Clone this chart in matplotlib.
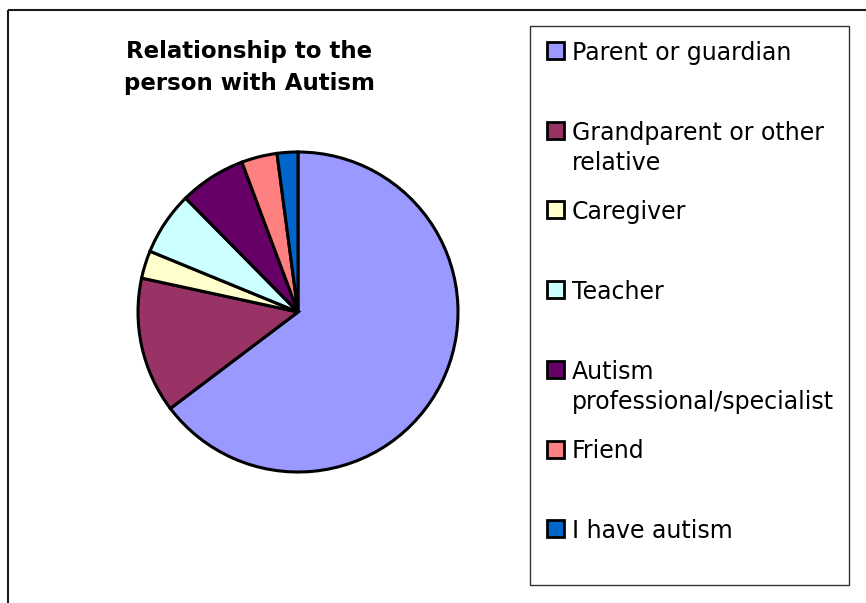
import matplotlib
matplotlib.use("Agg")
import matplotlib.pyplot as plt
from matplotlib.patches import Rectangle

# ---- data ----
categories = ["Parent or guardian", "Grandparent or other\nrelative", "Caregiver",
              "Teacher", "Autism\nprofessional/specialist", "Friend", "I have autism"]
values = [64.7, 13.7, 2.8, 6.4, 6.7, 3.6, 2.1]
colors = ["#9999FF", "#993366", "#FFFFCC", "#CCFFFF", "#660066", "#FF8080", "#0066CC"]
title_lines = ["Relationship to the", "person with Autism"]

W, H = 866, 603
fig = plt.figure(figsize=(W / 100, H / 100), dpi=100)
fig.patch.set_facecolor("white")

# overlay axes in pixel coordinates (y downward)
ov = fig.add_axes([0, 0, 1, 1])
ov.set_xlim(0, W)
ov.set_ylim(H, 0)
ov.axis("off")
ov.patch.set_alpha(0)

# outer chart-area border (extends beyond the image on right/bottom)
ov.add_patch(Rectangle((8, 10), 1000, 1000, fill=False, ec="#1a1a1a", lw=1.5))

# title
tx = 249
for i, line in enumerate(title_lines):
    ov.text(tx, 58 + i * 32, line, ha="center", va="baseline",
            fontsize=16.5, fontweight="bold", family="DejaVu Sans", color="black")

# pie
cx, cy, R = 298, 312, 160
half = 172
pax = fig.add_axes([(cx - half) / W, (H - cy - half) / H, 2 * half / W, 2 * half / H])
pax.pie(values, colors=colors, startangle=90, counterclock=False, radius=1,
        wedgeprops=dict(edgecolor="black", linewidth=2.2, joinstyle="miter"))
lim = half / R
pax.set_xlim(-lim, lim)
pax.set_ylim(-lim, lim)
pax.axis("off")

# legend (Excel style, drawn on overlay)
ov.add_patch(Rectangle((530, 26), 319, 559, fill=False, ec="#333333", lw=1.0))
base0, step, lstep = 60, 79.7, 30
for i, (lab, col) in enumerate(zip(categories, colors)):
    base = base0 + i * step
    ov.add_patch(Rectangle((547, base - 18), 17, 17, fc=col, ec="black", lw=2.0))
    for j, part in enumerate(lab.split("\n")):
        ov.text(572, base + j * lstep, part, ha="left", va="baseline",
                fontsize=17, family="DejaVu Sans", color="black")

fig.savefig("out.png", dpi=100)
